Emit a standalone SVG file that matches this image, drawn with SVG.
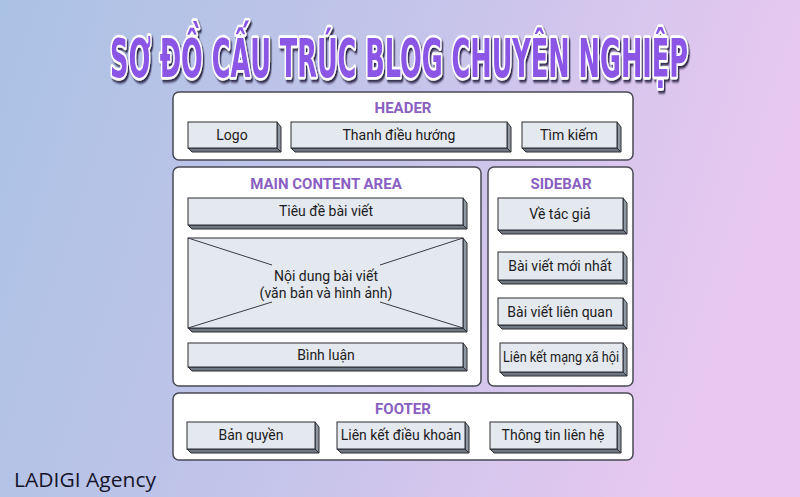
<svg xmlns="http://www.w3.org/2000/svg" width="800" height="497" viewBox="0 0 800 497">
<defs>
<linearGradient id="bg" x1="0" y1="0" x2="1" y2="0.2">
<stop offset="0" stop-color="#aac2e4"/>
<stop offset="0.5" stop-color="#c4c4ea"/>
<stop offset="1" stop-color="#e8c8f0"/>
</linearGradient>
<filter id="shadow" filterUnits="userSpaceOnUse" x="-700" y="-70" width="1400" height="100">
<feDropShadow dx="2.5" dy="2.5" stdDeviation="1.2" flood-color="#1e1438" flood-opacity="0.9"/>
</filter>
<style>
.panel{fill:#ffffff;stroke:#4a4a55;stroke-width:1.5}
.front{fill:#e4e8ef;stroke:#2d2d33;stroke-width:1}
.side{fill:#8f97a3;stroke:#2d2d33;stroke-width:1}
.bot{fill:#6f7782;stroke:#2d2d33;stroke-width:1}
.ptitle{font-family:Roboto,"Liberation Sans",sans-serif;font-weight:bold;font-size:15px;fill:#8a5fc2;text-anchor:middle}
.lbl{font-family:Roboto,"Liberation Sans",sans-serif;font-size:14px;fill:#1c1c22;text-anchor:middle}
.xl{stroke:#3a3a44;stroke-width:1;fill:none}
</style>
</defs>
<rect width="800" height="497" fill="url(#bg)"/>
<g id="title">
<text transform="translate(399,77) scale(0.568,1.06)" x="0" y="0" text-anchor="middle" font-family="'DejaVu Sans Condensed','DejaVu Sans',sans-serif" font-weight="bold" font-size="50" fill="#8b55e6" stroke="#ffffff" stroke-width="5" stroke-linejoin="round" paint-order="stroke" filter="url(#shadow)">SƠ ĐỒ CẤU TRÚC BLOG CHUYÊN NGHIỆP</text>
</g>
<g id="header">
<rect class="panel" x="173" y="92" width="460" height="68" rx="6"/>
<text class="ptitle" x="403" y="113">HEADER</text>
</g>
<g id="logo">
<polygon class="side" points="277,122 281,127 281,152 277,148"/>
<polygon class="bot" points="188,148 277,148 281,152 192,152"/>
<rect class="front" x="188" y="122" width="89" height="26"/>
<text class="lbl" x="232" y="140">Logo</text>
</g>
<g id="nav">
<polygon class="side" points="507,122 511,127 511,152 507,148"/>
<polygon class="bot" points="291,148 507,148 511,152 295,152"/>
<rect class="front" x="291" y="122" width="216" height="26"/>
<text class="lbl" x="399" y="140">Thanh điều hướng</text>
</g>
<g id="search">
<polygon class="side" points="617,122 621,127 621,152 617,148"/>
<polygon class="bot" points="522,148 617,148 621,152 526,152"/>
<rect class="front" x="522" y="122" width="95" height="26"/>
<text class="lbl" x="569" y="140">Tìm kiếm</text>
</g>
<g id="main">
<rect class="panel" x="173" y="167" width="308" height="219" rx="6"/>
<text class="ptitle" x="326" y="189">MAIN CONTENT AREA</text>
</g>
<g id="post-title">
<polygon class="side" points="463,198 467,203 467,229 463,225"/>
<polygon class="bot" points="188,225 463,225 467,229 192,229"/>
<rect class="front" x="188" y="198" width="275" height="27"/>
<text class="lbl" x="326" y="216">Tiêu đề bài viết</text>
</g>
<g id="post-content">
<polygon class="side" points="463,238 467,243 467,332 463,328"/>
<polygon class="bot" points="188,328 463,328 467,332 192,332"/>
<rect class="front" x="188" y="238" width="275" height="90"/>
<line class="xl" x1="188" y1="238" x2="272" y2="265"/>
<line class="xl" x1="463" y1="238" x2="380" y2="265"/>
<line class="xl" x1="188" y1="328" x2="272" y2="302"/>
<line class="xl" x1="463" y1="328" x2="380" y2="302"/>
<text class="lbl" x="326" y="281">Nội dung bài viết</text>
<text class="lbl" x="326" y="298">(văn bản và hình ảnh)</text>
</g>
<g id="comments">
<polygon class="side" points="463,343 467,348 467,371 463,367"/>
<polygon class="bot" points="188,367 463,367 467,371 192,371"/>
<rect class="front" x="188" y="343" width="275" height="24"/>
<text class="lbl" x="326" y="360">Bình luận</text>
</g>
<g id="sidebar">
<rect class="panel" x="488" y="167" width="145" height="219" rx="6"/>
<text class="ptitle" x="561" y="189">SIDEBAR</text>
</g>
<g id="author">
<polygon class="side" points="623,198 627,203 627,234 623,230"/>
<polygon class="bot" points="498,230 623,230 627,234 502,234"/>
<rect class="front" x="498" y="198" width="125" height="32"/>
<text class="lbl" x="560" y="219">Về tác giả</text>
</g>
<g id="latest">
<polygon class="side" points="623,252 627,257 627,284 623,280"/>
<polygon class="bot" points="498,280 623,280 627,284 502,284"/>
<rect class="front" x="498" y="252" width="125" height="28"/>
<text class="lbl" x="560" y="271">Bài viết mới nhất</text>
</g>
<g id="related">
<polygon class="side" points="623,298 627,303 627,329 623,325"/>
<polygon class="bot" points="498,325 623,325 627,329 502,329"/>
<rect class="front" x="498" y="298" width="125" height="27"/>
<text class="lbl" x="560" y="317">Bài viết liên quan</text>
</g>
<g id="social">
<polygon class="side" points="623,343 627,348 627,376 623,372"/>
<polygon class="bot" points="500,372 623,372 627,376 504,376"/>
<rect class="front" x="500" y="343" width="123" height="29"/>
<text class="lbl" x="561" y="362" textLength="116" lengthAdjust="spacingAndGlyphs">Liên kết mạng xã hội</text>
</g>
<g id="footer">
<rect class="panel" x="173" y="393" width="460" height="67" rx="6"/>
<text class="ptitle" x="403" y="414">FOOTER</text>
</g>
<g id="copyright">
<polygon class="side" points="315,422 319,427 319,453 315,449"/>
<polygon class="bot" points="187,449 315,449 319,453 191,453"/>
<rect class="front" x="187" y="422" width="128" height="27"/>
<text class="lbl" x="251" y="440">Bản quyền</text>
</g>
<g id="terms">
<polygon class="side" points="465,422 469,427 469,453 465,449"/>
<polygon class="bot" points="337,449 465,449 469,453 341,453"/>
<rect class="front" x="337" y="422" width="128" height="27"/>
<text class="lbl" x="401" y="440">Liên kết điều khoản</text>
</g>
<g id="contact">
<polygon class="side" points="617,422 621,427 621,453 617,449"/>
<polygon class="bot" points="490,449 617,449 621,453 494,453"/>
<rect class="front" x="490" y="422" width="127" height="27"/>
<text class="lbl" x="553" y="440">Thông tin liên hệ</text>
</g>
<g id="connectors"></g>
<text x="14" y="487" font-family="'Open Sans','Liberation Sans',sans-serif" font-size="20.5" textLength="142" lengthAdjust="spacingAndGlyphs" fill="#15152a">LADIGI Agency</text>
</svg>
